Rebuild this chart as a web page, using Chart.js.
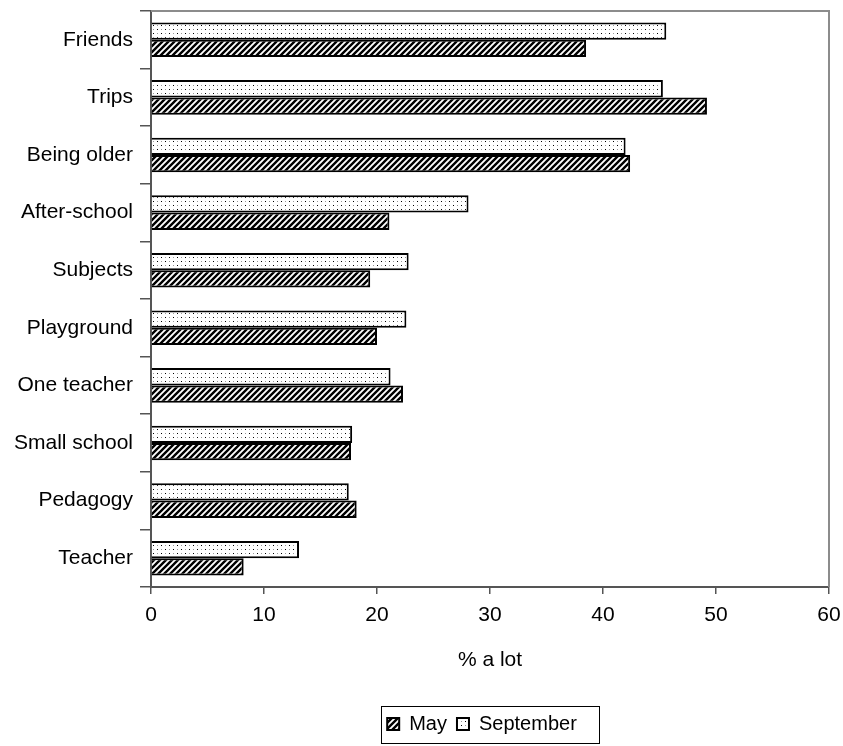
<!DOCTYPE html>
<html>
<head>
<meta charset="utf-8">
<script src="https://cdn.jsdelivr.net/npm/chart.js@4/dist/chart.umd.min.js"></script>
<style>
  html, body { margin: 0; padding: 0; background: #fff; }
  canvas { display: block; }
</style>
</head>
<body>
<canvas id="chart" width="843" height="746"></canvas>
<script>
// Reasons rated "a lot", surveyed in May and again in September
const categories = ['Friends', 'Trips', 'Being older', 'After-school', 'Subjects',
                    'Playground', 'One teacher', 'Small school', 'Pedagogy', 'Teacher'];
const september = [45.6, 45.3, 42.0, 28.1, 22.8, 22.6, 21.2, 17.8, 17.5, 13.1];
const may       = [38.5, 49.2, 42.4, 21.1, 19.4, 20.0, 22.3, 17.7, 18.2, 8.2];
const xMin = 0, xMax = 60, xStep = 10;
const xTitle = '% a lot';

// Diagonal hatch fill
function hatchPattern() {
  const c = document.createElement('canvas');
  c.width = 6; c.height = 6;
  const g = c.getContext('2d');
  g.fillStyle = '#fff';
  g.fillRect(0, 0, 6, 6);
  g.strokeStyle = '#000';
  g.lineWidth = 2.4;
  g.beginPath();
  g.moveTo(-1, 7); g.lineTo(7, -1);
  g.moveTo(-4, 4); g.lineTo(4, -4);
  g.moveTo(2, 10); g.lineTo(10, 2);
  g.stroke();
  return g.createPattern(c, 'repeat');
}

// Sparse dotted fill
function dotPattern() {
  const c = document.createElement('canvas');
  c.width = 8; c.height = 8;
  const g = c.getContext('2d');
  g.fillStyle = '#fff';
  g.fillRect(0, 0, 8, 8);
  g.fillStyle = '#000';
  g.fillRect(1, 1, 1, 1);
  g.fillRect(5, 5, 1, 1);
  g.fillStyle = '#9a9a9a';
  g.fillRect(5, 1, 1, 1);
  g.fillRect(1, 5, 1, 1);
  return g.createPattern(c, 'repeat');
}

// Nudge the legend a little left of the plot centre
const legendShift = {
  id: 'legendShift',
  afterLayout(chart) {
    const lg = chart.legend;
    if (lg) { lg.left -= 8; lg.right -= 8; }
  }
};

// Grey frame around the plot area plus a box around the legend
const framePlugin = {
  id: 'frames',
  afterDraw(chart) {
    const ctx = chart.ctx;
    const a = chart.chartArea;
    ctx.save();
    ctx.strokeStyle = '#8c8c8c';
    ctx.lineWidth = 2;
    ctx.beginPath();
    ctx.moveTo(a.left, a.top);
    ctx.lineTo(a.right, a.top);
    ctx.lineTo(a.right, a.bottom);
    ctx.stroke();

    const boxes = chart.legend.legendHitBoxes;
    if (boxes && boxes.length) {
      const first = boxes[0], last = boxes[boxes.length - 1];
      const left = first.left - 6;
      const right = last.left + last.width + 22;
      const top = first.top - 8;
      const bottom = first.top + first.height + 9;
      ctx.strokeStyle = '#000';
      ctx.lineWidth = 1;
      ctx.strokeRect(Math.round(left) + 0.5, Math.round(top) + 0.5,
                     Math.round(right - left), Math.round(bottom - top));
    }
    ctx.restore();
  }
};

const labelFont = { family: "'Liberation Sans', Arial, sans-serif", size: 21 };

new Chart(document.getElementById('chart'), {
  type: 'bar',
  data: {
    labels: categories,
    datasets: [
      {
        label: 'September',
        data: september,
        backgroundColor: dotPattern(),
        borderColor: '#000',
        borderWidth: 2,
        categoryPercentage: 0.6,
        barPercentage: 1.0
      },
      {
        label: 'May',
        data: may,
        backgroundColor: hatchPattern(),
        borderColor: '#000',
        borderWidth: 2,
        categoryPercentage: 0.6,
        barPercentage: 1.0
      }
    ]
  },
  options: {
    indexAxis: 'y',
    responsive: false,
    animation: false,
    layout: { padding: { left: 0, top: 11, right: 14, bottom: 2 } },
    scales: {
      y: {
        afterFit(scale) {
          scale.width = 151;
          scale.paddingTop = 0;
          scale.paddingBottom = 0;
        },
        grid: {
          drawOnChartArea: false,
          drawTicks: true,
          tickLength: 11,
          color: '#555',
          lineWidth: 1.5,
          offset: true
        },
        border: { color: '#555', width: 2 },
        ticks: { color: '#000', font: labelFont, padding: 7 }
      },
      x: {
        min: xMin,
        max: xMax,
        afterFit(scale) {
          scale.height = 117;
          scale.paddingLeft = 0;
          scale.paddingRight = 0;
        },
        grid: {
          drawOnChartArea: false,
          drawTicks: true,
          tickLength: 7,
          color: '#555',
          lineWidth: 1.5
        },
        border: { color: '#555', width: 2 },
        ticks: { stepSize: xStep, color: '#000', font: labelFont, padding: 9 },
        title: {
          display: true,
          text: xTitle,
          color: '#000',
          font: labelFont,
          padding: { top: 4, bottom: 31 }
        }
      }
    },
    plugins: {
      legend: {
        position: 'bottom',
        fullSize: false,
        labels: {
          color: '#000',
          font: { family: "'Liberation Sans', Arial, sans-serif", size: 20 },
          boxWidth: 12,
          boxHeight: 12,
          padding: 10,
          sort: (a, b) => b.datasetIndex - a.datasetIndex
        }
      },
      tooltip: { enabled: false }
    }
  },
  plugins: [legendShift, framePlugin]
});
</script>
</body>
</html>
